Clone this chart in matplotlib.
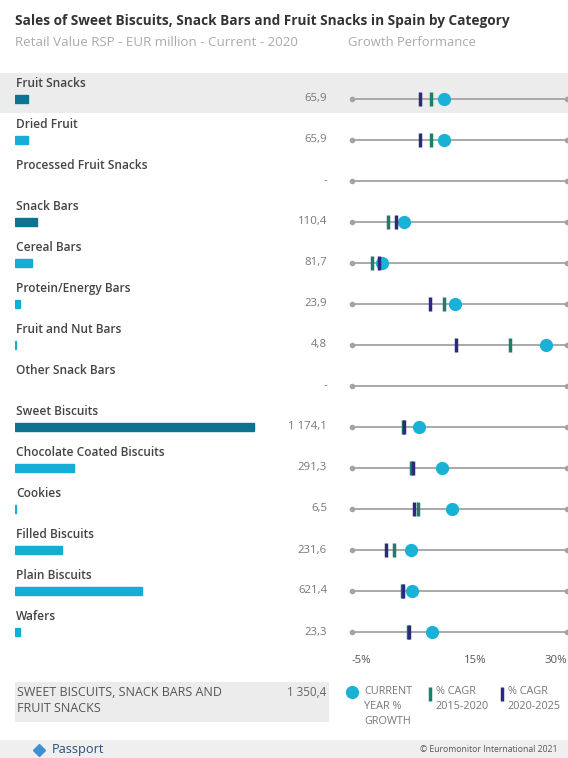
import numpy as np
import matplotlib
matplotlib.use("Agg")
import matplotlib.pyplot as plt
from matplotlib.lines import Line2D
from matplotlib.patches import Rectangle
import matplotlib.transforms as mtransforms

plt.rcParams['font.family'] = ['Open Sans', 'DejaVu Sans']

# data
categories = ["Fruit Snacks", "Dried Fruit", "Processed Fruit Snacks",
              "Snack Bars", "Cereal Bars", "Protein/Energy Bars", "Fruit and Nut Bars",
              "Other Snack Bars", "Sweet Biscuits", "Chocolate Coated Biscuits",
              "Cookies", "Filled Biscuits", "Plain Biscuits", "Wafers"]
is_parent = [True, False, False, True, False, False, False, False,
             True, False, False, False, False, False]
sales = [65.9, 65.9, np.nan, 110.4, 81.7, 23.9, 4.8, np.nan,
         1174.1, 291.3, 6.5, 231.6, 621.4, 23.3]
growth_current = [10.0, 10.0, np.nan, 3.4, -0.1, 11.8, 26.5, np.nan,
                  5.9, 9.7, 11.2, 4.6, 4.8, 8.1]
cagr_2015_2020 = [7.8, 7.8, np.nan, 0.9, -1.8, 10.0, 20.7, np.nan,
                  3.3, 4.6, 5.8, 1.9, 3.2, 4.1]
cagr_2020_2025 = [6.1, 6.1, np.nan, 2.2, -0.6, 7.7, 11.9, np.nan,
                  3.4, 4.9, 5.1, 0.5, 3.3, 4.2]
total_label = "SWEET BISCUITS, SNACK BARS AND\nFRUIT SNACKS"
total_sales = 1350.4
growth_ticks = [-5, 15, 30]
growth_range = (-5, 30)

DARK = "#0e7391"
LIGHT = "#15acd6"
CYAN = "#19b2d6"
GREEN = "#1f7d6b"
NAVY = "#2b2b7e"
GREYLINE = "#a3a3a3"

W, H = 568, 758


def box(x0, y0, x1, y1):
    return [x0 / W, 1 - y1 / H, (x1 - x0) / W, (y1 - y0) / H]


def fmt(v):
    if np.isnan(v):
        return "-"
    return f"{v:,.1f}".replace(",", " ").replace(".", ",")


fig = plt.figure(figsize=(W / 100, H / 100), dpi=100)
fig.patch.set_facecolor("white")

rows = np.arange(len(categories))
ylims = (13.5, -0.7)

# highlighted first row
bg = fig.add_axes(box(0, 70.3, 568, 652.5), zorder=-1)
bg.set_ylim(*ylims)
bg.set_xlim(0, 1)
bg.axhspan(-0.63, 0.34, color="#ececec", lw=0)
bg.axis("off")

# left: bars (rows without data get no bar)
ax = fig.add_axes(box(15, 70.3, 327, 652.5))
ax.set_ylim(*ylims)
ax.set_xlim(0, np.nanmax(sales) * 1.305)
sales_arr = np.array(sales)
has = ~np.isnan(sales_arr)
colors = np.array([DARK if p else LIGHT for p in is_parent])
ax.barh(rows[has], sales_arr[has], height=0.2, color=colors[has],
        edgecolor=colors[has], linewidth=1.0)
ax.axis("off")
tr = mtransforms.blended_transform_factory(ax.transAxes, ax.transData)
for r, name, v in zip(rows, categories, sales):
    ax.text(0.003, r - 0.37, name, transform=tr, ha="left", va="center",
            fontsize=8.6, color="#444444", fontweight="semibold")
    ax.text(1.0, r, fmt(v), transform=tr, ha="right", va="center",
            fontsize=8.2, color="#777777")

# right: growth dot plot
ax2 = fig.add_axes(box(352, 70.3, 567, 652.5))
ax2.set_facecolor("none")
ax2.set_ylim(*ylims)
ax2.set_xlim(*growth_range)
for r in rows:
    ax2.plot(growth_range, [r, r], color=GREYLINE, lw=1.3, marker="o",
             markersize=3, clip_on=False, zorder=1)
ax2.plot(growth_current, rows, ls="none", marker="o", markersize=8.5,
         color=CYAN, clip_on=False, zorder=3)
ax2.plot(cagr_2015_2020, rows, ls="none", marker="|", markersize=10,
         markeredgewidth=2.5, color=GREEN, zorder=4)
ax2.plot(cagr_2020_2025, rows, ls="none", marker="|", markersize=10,
         markeredgewidth=2.5, color=NAVY, zorder=5)
for s in ax2.spines.values():
    s.set_visible(False)
ax2.set_yticks([])
ax2.set_xticks(growth_ticks)
ax2.set_xticklabels([f"{t}%" for t in growth_ticks], fontsize=8.2,
                    color="#555555")
ax2.tick_params(axis="x", length=0, pad=2)
labs = ax2.get_xticklabels()
labs[0].set_ha("left")
labs[-1].set_ha("right")

# titles
fig.text(15 / W, 1 - 21 / H,
         "Sales of Sweet Biscuits, Snack Bars and Fruit Snacks in Spain by Category",
         fontsize=9.8, fontweight="bold", color="#333333", va="center")
fig.text(15 / W, 1 - 43 / H, "Retail Value RSP - EUR million - Current - 2020",
         fontsize=9.6, color="#aaaaaa", va="center")
fig.text(348 / W, 1 - 43 / H, "Growth Performance",
         fontsize=9.4, color="#aaaaaa", va="center")

# summary row
fig.add_artist(Rectangle((15 / W, 1 - 722 / H), (329 - 15) / W, 40 / H,
                         transform=fig.transFigure, facecolor="#ececec", lw=0))
lines = total_label.split("\n")
fig.text(17 / W, 1 - 693 / H, lines[0], fontsize=9.0, color="#555555", va="center")
fig.text(17 / W, 1 - 708 / H, lines[1], fontsize=9.0, color="#555555", va="center")
fig.text(326 / W, 1 - 692 / H, fmt(total_sales), fontsize=8.4, color="#666666",
         va="center", ha="right")

# legend
fig.add_artist(Line2D([352 / W], [1 - 692 / H], marker="o", markersize=8.5,
                      color=CYAN, transform=fig.transFigure))
for i, t in enumerate(["CURRENT", "YEAR %", "GROWTH"]):
    fig.text(364 / W, 1 - (692 + 14.5 * i) / H, t, fontsize=7.8, color="#777777",
             va="center")
fig.add_artist(Line2D([430 / W], [1 - 694 / H], marker="|", markersize=10,
                      markeredgewidth=2.5, color=GREEN, transform=fig.transFigure))
for i, t in enumerate(["% CAGR", "2015-2020"]):
    fig.text(436 / W, 1 - (692 + 14.5 * i) / H, t, fontsize=7.8, color="#777777",
             va="center")
fig.add_artist(Line2D([502 / W], [1 - 694 / H], marker="|", markersize=10,
                      markeredgewidth=2.5, color=NAVY, transform=fig.transFigure))
for i, t in enumerate(["% CAGR", "2020-2025"]):
    fig.text(508 / W, 1 - (692 + 14.5 * i) / H, t, fontsize=7.8, color="#777777",
             va="center")

# footer
fig.add_artist(Rectangle((0, 0), 1, 18 / H, transform=fig.transFigure,
                         facecolor="#efefef", lw=0))
fig.add_artist(Line2D([39 / W], [1 - 750 / H], marker="D", markersize=6,
                      color="#3f8fd2", transform=fig.transFigure))
fig.text(52 / W, 1 - 750 / H, "Passport", fontsize=9.2, color="#2d4f78", va="center")
fig.text(557 / W, 1 - 749 / H, "\u00a9 Euromonitor International 2021",
         fontsize=6.2, color="#555555", va="center", ha="right")

fig.savefig("out.png", dpi=100)
